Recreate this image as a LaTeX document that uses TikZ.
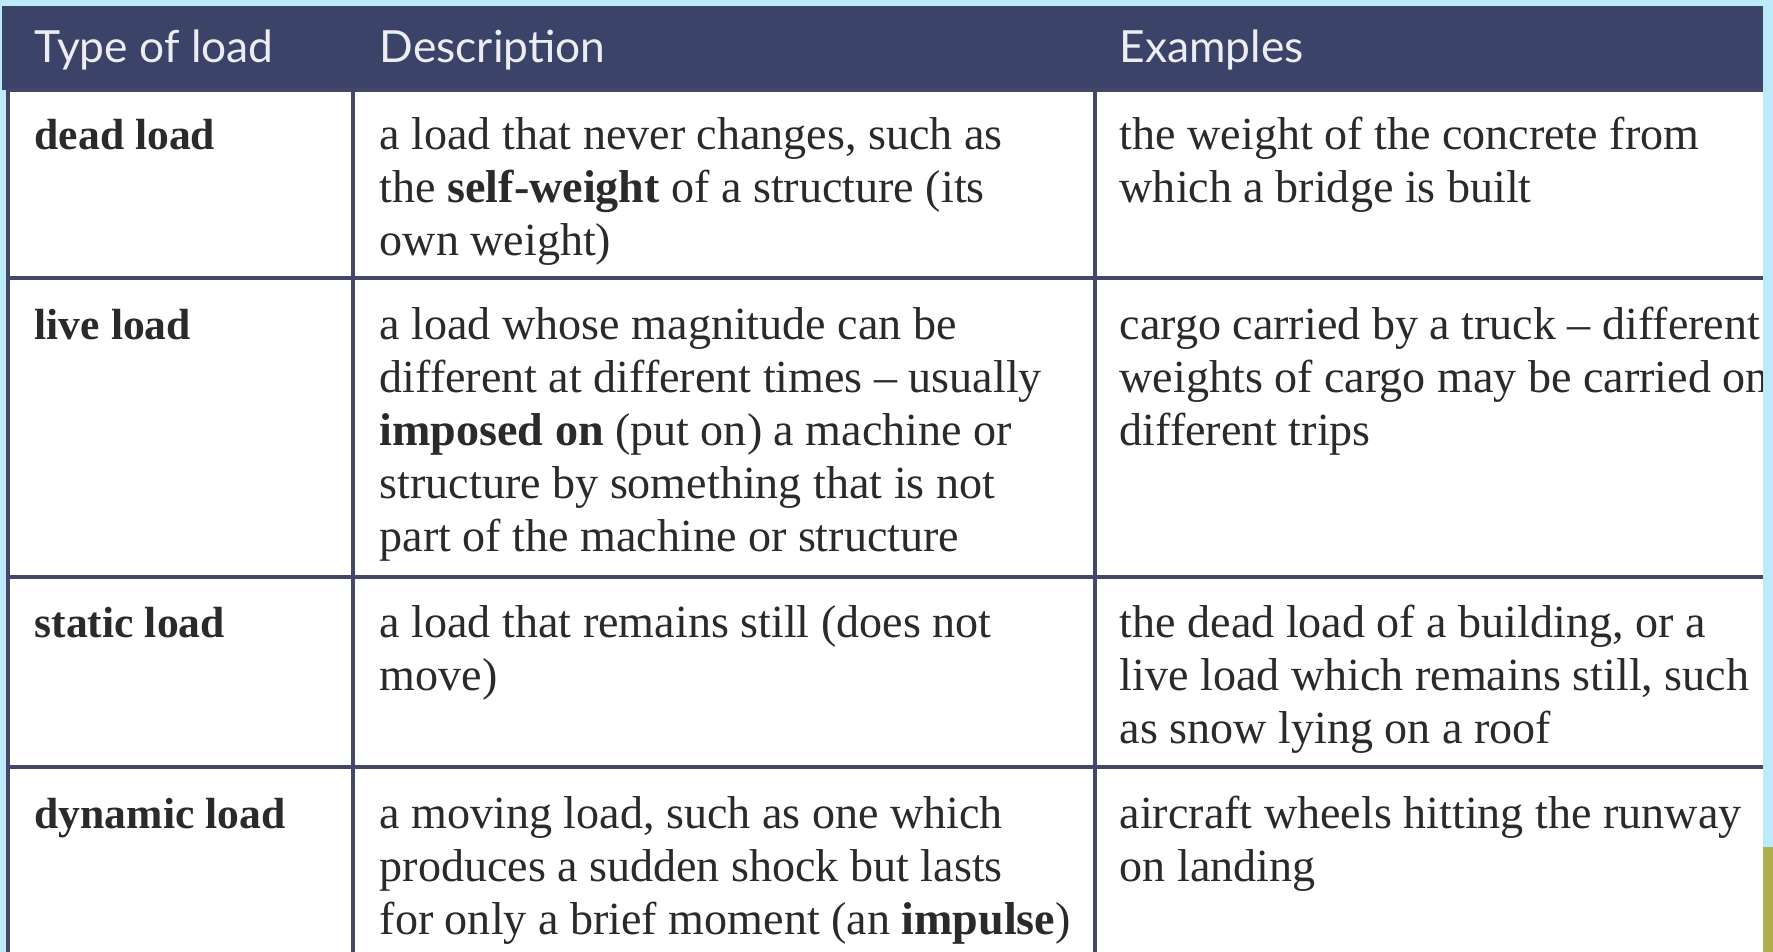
\documentclass[tikz,border=0pt]{standalone}
\usepackage{fontspec}
\setmainfont{Liberation Serif}
\newfontfamily\headfont{Lato}

\definecolor{skyblue}{HTML}{BDEAF9}
\definecolor{headblue}{HTML}{3B4468}
\definecolor{headtext}{HTML}{ECECF2}
\definecolor{gridline}{HTML}{45476A}
\definecolor{bodytext}{HTML}{2A2A2A}
\definecolor{oliveband}{HTML}{ACAF4C}

\tikzset{
  headcell/.style={anchor=base west, inner sep=0pt, text=headtext,
    font=\headfont\fontsize{12.6}{15}\selectfont},
  bodycell/.style={anchor=north west, yshift=9.2pt, inner sep=0pt, align=left,
    text=bodytext, font=\fontsize{13.1}{15.08}\selectfont,
    execute at begin node=\strut},
  typecell/.style={bodycell, yshift=1.36pt, font=\bfseries\fontsize{12.4}{15.08}\selectfont},
  gridrule/.style={draw=gridline, line width=0.9pt},
}

\begin{document}
\begin{tikzpicture}[x=0.01cm,y=-0.01cm]
    \useasboundingbox (0,0) rectangle (1773,952);
    \fill [skyblue] (0,0) rectangle (1773,952);
    \fill [white] (8,90) rectangle (1763,952);
    \fill [headblue] (2,6) rectangle (1763,90);

    % header
    \node [headcell] (htype) at (34,63) {Type of load};
    \node [headcell] (hdesc) at (379,63) {Description};
    \node [headcell] (hexam) at (1119,63) {Examples};

    % rows
    \node [typecell] (type1) at (34,149) {dead load};
    \node [bodycell] (desc1) at (379,149) {a load that never changes, such as\\
        the \textbf{self-weight} of a structure (its\\ own weight)};
    \node [bodycell] (exam1) at (1119,149) {the weight of the concrete from\\ which a bridge is built};

    \node [typecell] (type2) at (34,339) {live load};
    \node [bodycell] (desc2) at (379,339) {a load whose magnitude can be\\
        different at different times -- usually\\ \textbf{imposed on} (put on) a machine or\\
        structure by something that is not\\ part of the machine or structure};
    \node [bodycell] (exam2) at (1119,339) {cargo carried by a truck -- different\\
        weights of cargo may be carried on\\ different trips};

    \node [typecell] (type3) at (34,637) {static load};
    \node [bodycell] (desc3) at (379,637) {a load that remains still (does not\\ move)};
    \node [bodycell] (exam3) at (1119,637) {the dead load of a building, or a\\
        live load which remains still, such\\ as snow lying on a roof};

    \node [typecell] (type4) at (34,828) {dynamic load};
    \node [bodycell] (desc4) at (379,828) {a moving load, such as one which\\
        produces a sudden shock but lasts\\ for only a brief moment (an \textbf{impulse})};
    \node [bodycell] (exam4) at (1119,828) {aircraft wheels hitting the runway\\ on landing};

    % grid
    \draw [gridrule] (8,90) -- (8,952);
    \draw [gridrule] (353,90) -- (353,952);
    \draw [gridrule] (1095,90) -- (1095,952);
    \foreach \y in {90,278,577,767}
        \draw [gridrule] (8,\y) -- (1763,\y);

    % right margin covers the overflowing text
    \fill [skyblue] (1763,0) rectangle (1773,952);
    \fill [oliveband] (1763,847) rectangle (1773,952);
\end{tikzpicture}
\end{document}
